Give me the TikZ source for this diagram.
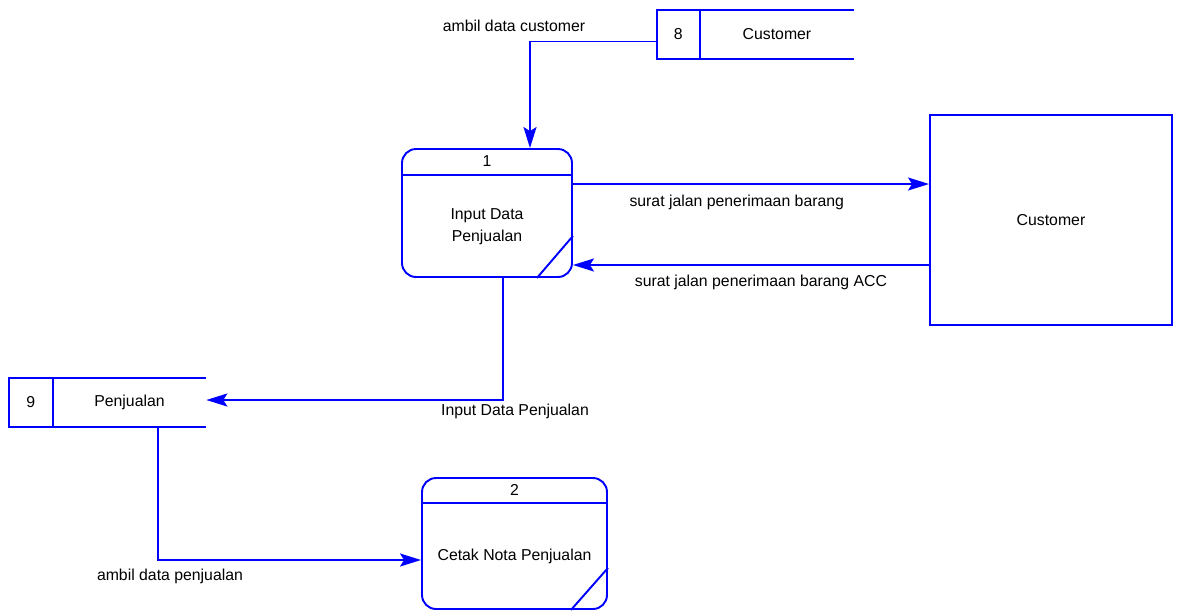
\documentclass[tikz,border=0pt]{standalone}
\usepackage{fontspec}
\setmainfont{Liberation Sans}
\usetikzlibrary{positioning,calc,arrows.meta}
\definecolor{dfdblue}{RGB}{0,0,255}

\begin{document}
\begin{tikzpicture}[x=0.02cm,y=-0.02cm,>={Stealth[length=0.42cm,width=0.26cm,inset=0.08cm]},
    every node/.style={font=\fontsize{9}{12.5}\selectfont},
    proc node/.style={draw=dfdblue,line width=1.1pt,rounded corners=0.28cm},
    store node/.style={minimum width=3.94cm,minimum height=0.98cm,inner sep=0pt},
    ent node/.style={draw=dfdblue,line width=1.1pt,minimum width=4.84cm,minimum height=4.2cm},
    part/.style={draw=dfdblue,line width=1.1pt},
    flow/.style={->,draw=dfdblue,line width=1.1pt},
    flow label/.style={inner sep=0pt}]

    \useasboundingbox (0,0) rectangle (1178,610);

    % processes
    \node[proc node, minimum width=3.4cm, minimum height=2.56cm] (p1) at (487,213) {};
    \draw[part] ([yshift=-0.54cm]p1.north west) -- ([yshift=-0.54cm]p1.north east);
    \draw[part] ([xshift=-0.72cm]p1.south east) -- ([yshift=0.84cm]p1.south east);
    \node (p1id) at ([yshift=-0.27cm]p1.north) {1};
    \node[align=center] (p1name) at ([yshift=-0.27cm]p1.center) {Input Data\\Penjualan};

    \node[proc node, minimum width=3.7cm, minimum height=2.62cm] (p2) at (514.5,543.5) {};
    \draw[part] ([yshift=-0.52cm]p2.north west) -- ([yshift=-0.52cm]p2.north east);
    \draw[part] ([xshift=-0.74cm]p2.south east) -- ([yshift=0.84cm]p2.south east);
    \node (p2id) at ([yshift=-0.26cm]p2.north) {2};
    \node (p2name) at ([yshift=-0.26cm]p2.center) {Cetak Nota Penjualan};

    % data stores
    \node[store node] (s8) at (755.5,34.5) {};
    \draw[part] (s8.north east) -- (s8.north west) -- (s8.south west) -- (s8.south east);
    \draw[part] ([xshift=0.86cm]s8.north west) -- ([xshift=0.86cm]s8.south west);
    \node (s8id) at ([xshift=0.43cm]s8.west) {8};
    \node (s8name) at ([xshift=0.43cm]s8.center) {Customer};

    \node[store node] (s9) at (107.5,402.5) {};
    \draw[part] (s9.north east) -- (s9.north west) -- (s9.south west) -- (s9.south east);
    \draw[part] ([xshift=0.88cm]s9.north west) -- ([xshift=0.88cm]s9.south west);
    \node (s9id) at ([xshift=0.44cm]s9.west) {9};
    \node (s9name) at ([xshift=0.44cm]s9.center) {Penjualan};

    % external entity
    \node[ent node] (ent) at (1051,220) {Customer};

    % flows
    \draw[flow] ([yshift=-0.14cm]s8.west) -| node[flow label, pos=0.5, xshift=-0.32cm, yshift=0.32cm] {ambil data customer} ([xshift=0.86cm]p1.north);
    \draw[flow] ([yshift=0.58cm]p1.east) -- node[flow label, pos=0.46, yshift=-0.36cm] {surat jalan penerimaan barang} ([yshift=0.58cm]p1.east -| ent.west);
    \draw[flow] ([yshift=-1.04cm]p1.east -| ent.west) -- node[flow label, pos=0.472, yshift=-0.34cm] {surat jalan penerimaan barang ACC} ([yshift=-1.04cm]p1.east);
    \draw[flow] ([xshift=0.32cm]p1.south) |- node[flow label, pos=0.5, xshift=0.24cm, yshift=-0.22cm] {Input Data Penjualan} ([yshift=0.05cm]s9.east);
    \draw[flow] ([xshift=1.01cm]s9.south) |- node[flow label, pos=0.5, xshift=0.24cm, yshift=-0.32cm] {ambil data penjualan} ([yshift=-0.33cm]p2.west);
\end{tikzpicture}
\end{document}
